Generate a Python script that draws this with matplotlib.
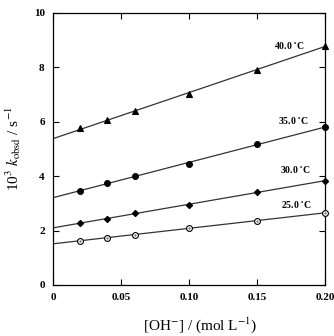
import numpy as np
import matplotlib
matplotlib.use("Agg")
import matplotlib.pyplot as plt

plt.rcParams["font.family"] = ["Liberation Serif", "DejaVu Serif"]
plt.rcParams["mathtext.fontset"] = "stix"

# data
conc = [0.02, 0.04, 0.06, 0.10, 0.15, 0.20]
k_40 = [5.77, 6.05, 6.38, 7.02, 7.92, 8.80]
k_35 = [3.47, 3.74, 4.01, 4.45, 5.18, 5.81]
k_30 = [2.27, 2.44, 2.65, 2.94, 3.42, 3.83]
k_25 = [1.63, 1.73, 1.85, 2.11, 2.36, 2.65]
temps = ["40.0 $^{\\circ}$C", "35.0 $^{\\circ}$C", "30.0 $^{\\circ}$C", "25.0 $^{\\circ}$C"]
xticks = [0, 0.05, 0.10, 0.15, 0.20]
xticklabels = ["0", "0.05", "0.10", "0.15", "0.20"]
yticks = [0, 2, 4, 6, 8, 10]

fig = plt.figure(figsize=(3.34, 3.36), dpi=100)
ax = fig.add_axes([53 / 334, 1 - 285 / 336, 272 / 334, 272 / 336])

series = [
    (k_40, "^", "black", 8.56, 0.174),
    (k_35, "o", "black", 5.82, 0.177),
    (k_30, "D", "black", 4.0, 0.178),
    (k_25, "o", "white", 2.72, 0.179),
]
xs = np.array([0, 0.2])
for (ys, mk, fc, ly, lx), lab in zip(series, temps):
    slope, icpt = np.polyfit(conc, ys, 1)
    ax.plot(xs, icpt + slope * xs, color="#333333", lw=0.9, zorder=2)
    ms = 3.2 if mk == "D" else 4.2
    ax.plot(conc, ys, linestyle="none", marker=mk, ms=ms, mfc=fc,
            mec="black", mew=0.8, zorder=3, clip_on=False)
    if fc == "white":
        ax.plot(conc, ys, linestyle="none", marker=".", ms=1.0,
                color="#555555", zorder=4, clip_on=False)
    ax.text(lx, ly, lab, ha="center", va="bottom", fontsize=7,
            fontweight="bold")

ax.set_xlim(0, 0.2)
ax.set_ylim(0, 10)
ax.set_xticks(xticks)
ax.set_xticklabels(xticklabels)
ax.set_yticks(yticks)
ax.tick_params(direction="in", top=True, right=True, length=4, width=0.8,
               labelsize=8, pad=6)
for t in ax.get_xticklabels() + ax.get_yticklabels():
    t.set_fontweight("bold")
for s in ax.spines.values():
    s.set_linewidth(0.9)

ax.set_xlabel("[OH$^{-}$] / (mol L$^{-1}$)", fontsize=11)
ax.xaxis.set_label_coords(0.54, -0.11)
ax.set_ylabel("10$^{3}$ $k_{\\mathrm{obsd}}$ / s$^{-1}$", fontsize=11,
              labelpad=8)

fig.savefig("out.png", dpi=100)
